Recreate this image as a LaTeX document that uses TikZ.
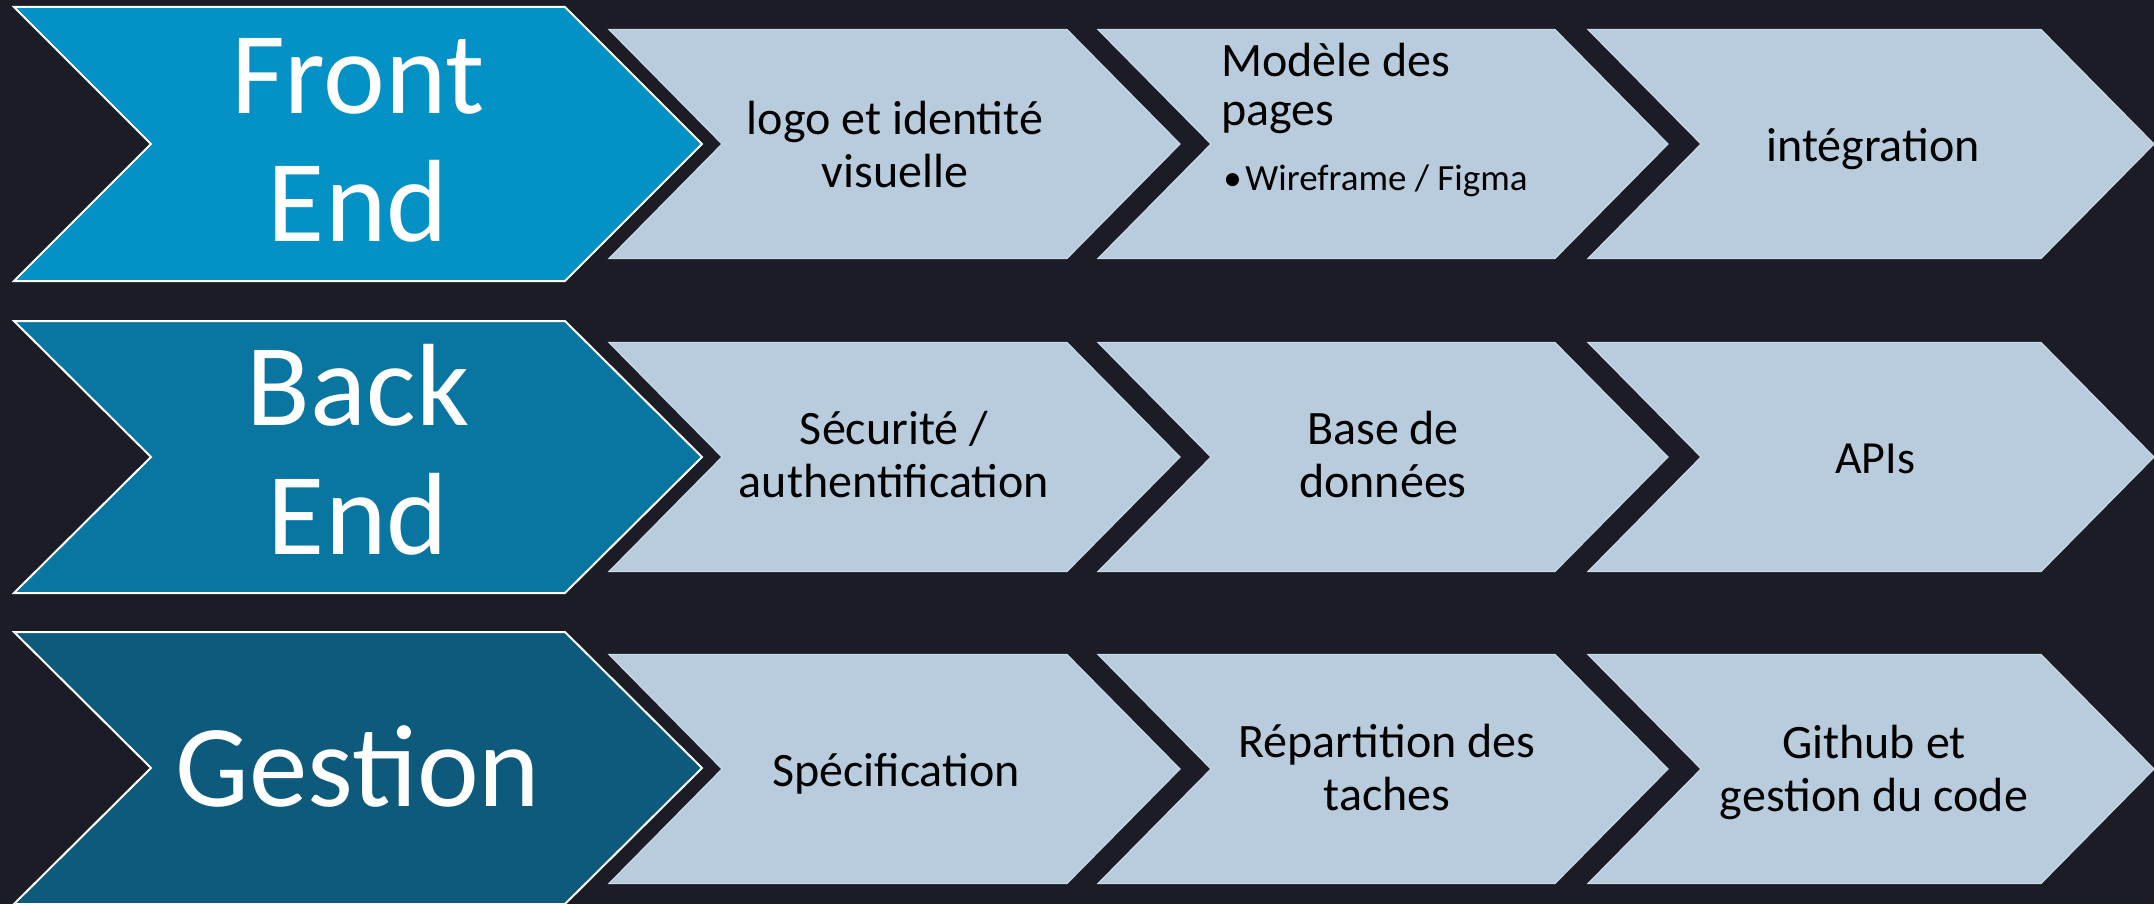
\documentclass[tikz,border=0pt]{standalone}
\usepackage{fontspec}
\setmainfont{Carlito}
\definecolor{bgcol}{RGB}{27,28,38}
\definecolor{frontcol}{RGB}{3,145,198}
\definecolor{backcol}{RGB}{9,117,161}
\definecolor{gestcol}{RGB}{13,90,124}
\definecolor{lightfill}{RGB}{184,204,221}
\definecolor{lightedge}{RGB}{200,216,232}
\newcommand\chevshape[6]{\path[#1] (#2,#5-#6) -- (#3,#5-#6) -- (#3+#4,#5) -- (#3,#5+#6) -- (#2,#5+#6) -- (#2+#4,#5) -- cycle;}
\begin{document}
\begin{tikzpicture}[x=0.5pt,y=-0.5pt,
  bigchev/.style={draw=white, line width=1pt, line join=miter},
  lightchev/.style={fill=lightfill, draw=lightedge, line width=0.6pt, line join=miter},
  bigtxt/.style={text=white, align=center, inner sep=0pt, font=\fontsize{58.5pt}{64.4pt}\selectfont},
  lighttxt/.style={text=black, align=center, inner sep=0pt, font=\fontsize{24pt}{26.5pt}\selectfont},
  subtxt/.style={text=black, inner sep=0pt, font=\fontsize{18.5pt}{20pt}\selectfont}
]
\fill[bgcol] (0,0) rectangle (2154,904);
\useasboundingbox (0,0) rectangle (2154,904);

% left category chevrons
\chevshape{bigchev, fill=frontcol}{14}{565}{137}{144}{137}
\chevshape{bigchev, fill=backcol}{14}{565}{137}{457}{136}
\chevshape{bigchev, fill=gestcol}{14}{565}{137}{768}{136}

% step chevrons
\foreach \yc in {144,457,769}{
  \chevshape{lightchev}{609}{1067}{113}{\yc}{114.5}
  \chevshape{lightchev}{1098}{1555}{113}{\yc}{114.5}
  \chevshape{lightchev}{1588}{2041}{113}{\yc}{114.5}
}

% category labels
\node[bigtxt] (fe) at (358,140.4) {Front\\End};
\node[bigtxt] (be) at (358,450) {Back\\End};
\node[bigtxt] (ge) at (358,766) {Gestion};

% row 1
\node[lighttxt] (t11) at (895,145) {logo et identité\\visuelle};
\node[lighttxt, anchor=base west] (t12a) at (1221,77) {Modèle des};
\node[lighttxt, anchor=base west] (t12b) at (1221,126) {pages};
\node[subtxt, anchor=base west] (t12c) at (1223,191) {\makebox[11pt][l]{•}Wireframe / Figma};
\node[lighttxt] (t13) at (1873,149) {intégration};

% row 2
\node[lighttxt] (t21) at (894,455) {Sécurité /\\authentification};
\node[lighttxt] (t22) at (1383,455) {Base de\\données};
\node[lighttxt, font=\fontsize{23pt}{25pt}\selectfont] (t23) at (1875,459) {APIs};

% row 3
\node[lighttxt] (t31) at (896,774) {Spécification};
\node[lighttxt] (t32) at (1387,768) {Répartition des\\taches};
\node[lighttxt] (t33) at (1874,772) {Github et\\gestion du code};
\end{tikzpicture}
\end{document}
